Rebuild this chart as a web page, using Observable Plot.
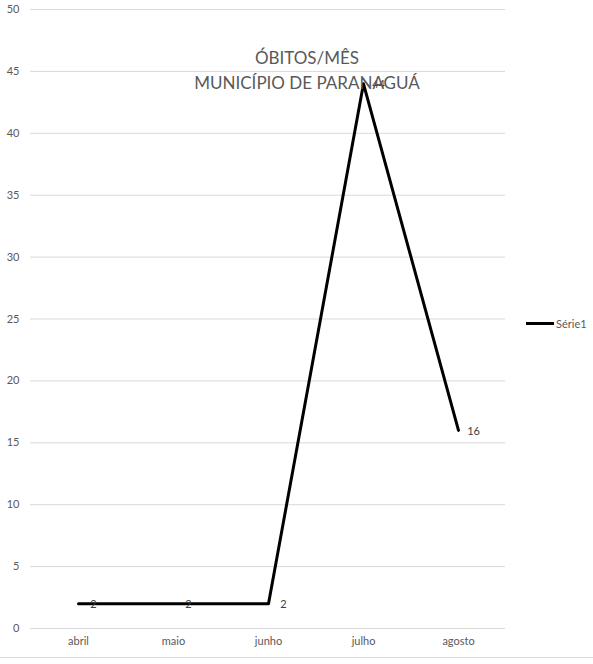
<!DOCTYPE html>
<html>
<head>
<meta charset="utf-8">
<script src="https://cdn.jsdelivr.net/npm/d3@7"></script>
<script src="https://cdn.jsdelivr.net/npm/@observablehq/plot@0.6"></script>
<style>
  html, body { margin: 0; padding: 0; background: #fff; }
  #wrap { position: relative; width: 593px; height: 664px; overflow: hidden; font-family: Lato, "Open Sans", sans-serif; }
  #title { position: absolute; left: 0; top: 45px; width: 614px; text-align: center; color: #595959; font-size: 17px; line-height: 25px; pointer-events: none; }
  #legend { position: absolute; left: 526px; top: 317px; font-size: 11px; color: #595959; display: flex; align-items: center; }
  #legend .sw { width: 28px; height: 3px; background: #000; margin-right: 2px; }
  #border { position: absolute; left: 0; top: 657px; width: 593px; height: 1px; background: #d9d9d9; }
</style>
</head>
<body>
<div id="wrap">
  <div id="chart"></div>
  <div id="title">ÓBITOS/MÊS<br>MUNICÍPIO DE PARANAGUÁ</div>
  <div id="legend"><span class="sw"></span><span>Série1</span></div>
  <div id="border"></div>
</div>
<script>
const months = ["abril", "maio", "junho", "julho", "agosto"];
const deaths = [2, 2, 2, 44, 16];
const yTicks = [0, 5, 10, 15, 20, 25, 30, 35, 40, 45, 50];
const seriesName = "Série1";

const data = months.map((m, i) => ({month: m, value: deaths[i]}));

const chart = Plot.plot({
  width: 593,
  height: 664,
  marginLeft: 30,
  marginRight: 88,
  marginTop: 9,
  marginBottom: 36,
  style: {fontFamily: "Lato, 'Open Sans', sans-serif", fontSize: "11px", color: "#595959", background: "#fff"},
  x: {type: "point", domain: months, padding: 0.5, label: null, tickSize: 0, tickPadding: 9},
  y: {domain: [0, 50], ticks: yTicks, label: null, tickSize: 0, tickPadding: 11},
  marks: [
    Plot.gridY(yTicks, {stroke: "#d9d9d9", strokeOpacity: 1, strokeWidth: 1}),
    Plot.axisX({tickSize: 0, tickPadding: 9, fill: "#595959", label: null}),
    Plot.axisY(yTicks, {tickSize: 0, tickPadding: 11, fill: "#595959", label: null}),
    Plot.line(data, {x: "month", y: "value", stroke: "#000", strokeWidth: 3}),
    Plot.text(data, {x: "month", y: "value", text: d => String(d.value), dx: 15, dy: 1, fill: "#404040", fontSize: 11})
  ]
});
document.getElementById("chart").appendChild(chart);
</script>
</body>
</html>
